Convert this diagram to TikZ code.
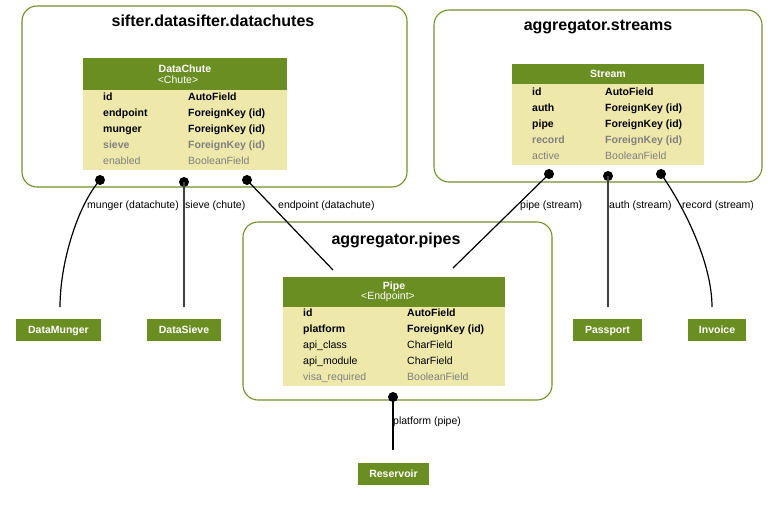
\documentclass[tikz,border=0pt]{standalone}
\usepackage{fontspec}
\setmainfont{Liberation Sans}
\usetikzlibrary{calc}
\definecolor{hdr}{RGB}{107,142,35}
\definecolor{bdy}{RGB}{238,232,170}
\definecolor{clu}{RGB}{110,145,40}
\definecolor{dim}{RGB}{128,128,128}
\begin{document}
\begin{tikzpicture}[x=1pt,y=-1pt,
  cluster/.style={draw=clu,line width=1.1pt,rounded corners=15pt},
  ctitle/.style={font=\fontsize{16}{18}\selectfont\bfseries},
  fbase/.style={anchor=west,inner sep=0pt,text height=7.6pt,text depth=0pt},
  fld/.style={fbase,font=\fontsize{10.5}{12}\selectfont\bfseries},
  fldn/.style={fbase,font=\fontsize{10.5}{12}\selectfont},
  fldd/.style={fbase,text=dim,font=\fontsize{10.5}{12}\selectfont},
  flddb/.style={fbase,text=dim,font=\fontsize{10.5}{12}\selectfont\bfseries},
  htext/.style={text=white,align=center,inner sep=0pt,font=\fontsize{10.5}{11.5}\selectfont},
  model/.style={fill=hdr,text=white,inner sep=0pt,minimum height=22pt,text height=7.6pt,text depth=0pt,font=\fontsize{10.5}{12}\selectfont\bfseries},
  dot/.style={circle,fill=black,inner sep=0pt,minimum size=10pt},
  rel/.style={draw=black,line width=1.2pt},
  elabel/.style={anchor=west,inner sep=0pt,text height=7.6pt,text depth=0pt,font=\fontsize{10.5}{12}\selectfont}
]
\useasboundingbox (0,0) rectangle (768,504);

% clusters
\draw[cluster] (22,6) rectangle (407,187);
\node[ctitle] (t1) at (213,21) {sifter.datasifter.datachutes};
\draw[cluster] (434,10) rectangle (762,182);
\node[ctitle] (t2) at (598,27) {aggregator.streams};
\draw[cluster] (243,222) rectangle (552,400);
\node[ctitle] (t3) at (396,240) {aggregator.pipes};

% DataChute table
\fill[bdy] (83,90) rectangle (287,170);
\fill[hdr] (83,58) rectangle (287,90);
\node[htext] (dch) at (185,74) {\textbf{DataChute}\\[-1pt]\makebox[0pt]{\hspace*{-14pt}<Chute>}};
\node[fld] (dc1a) at (103,97) {id};        \node[fld] (dc1b) at (188,97) {AutoField};
\node[fld] (dc2a) at (103,113) {endpoint}; \node[fld] (dc2b) at (188,113) {ForeignKey (id)};
\node[fld] (dc3a) at (103,129) {munger};   \node[fld] (dc3b) at (188,129) {ForeignKey (id)};
\node[flddb] (dc4a) at (103,145) {sieve};  \node[flddb] (dc4b) at (188,145) {ForeignKey (id)};
\node[fldd] (dc5a) at (103,161) {enabled}; \node[fldd] (dc5b) at (188,161) {BooleanField};

% Stream table
\fill[bdy] (512,84) rectangle (704,165);
\fill[hdr] (512,64) rectangle (704,84);
\node[htext,font=\fontsize{10.5}{12}\selectfont\bfseries] (sth) at (608,74) {Stream};
\node[fld] (st1a) at (532,92) {id};        \node[fld] (st1b) at (605,92) {AutoField};
\node[fld] (st2a) at (532,108) {auth};     \node[fld] (st2b) at (605,108) {ForeignKey (id)};
\node[fld] (st3a) at (532,124) {pipe};     \node[fld] (st3b) at (605,124) {ForeignKey (id)};
\node[flddb] (st4a) at (532,140) {record}; \node[flddb] (st4b) at (605,140) {ForeignKey (id)};
\node[fldd] (st5a) at (532,156) {active};  \node[fldd] (st5b) at (605,156) {BooleanField};

% Pipe table
\fill[bdy] (283,307) rectangle (505,386);
\fill[hdr] (283,277) rectangle (505,307);
\node[htext] (pph) at (394,292) {\textbf{Pipe}\\[-1pt]\makebox[0pt]{\hspace*{-12pt}<Endpoint>}};
\node[fld] (pp1a) at (303,313) {id};              \node[fld] (pp1b) at (407,313) {AutoField};
\node[fld] (pp2a) at (303,329) {platform};        \node[fld] (pp2b) at (407,329) {ForeignKey (id)};
\node[fldn] (pp3a) at (303,345) {api\_class};     \node[fldn] (pp3b) at (407,345) {CharField};
\node[fldn] (pp4a) at (303,361) {api\_module};    \node[fldn] (pp4b) at (407,361) {CharField};
\node[fldd] (pp5a) at (303,377) {visa\_required}; \node[fldd] (pp5b) at (407,377) {BooleanField};

% standalone models
\node[model,minimum width=85pt] (munger) at (58.5,330) {DataMunger};
\node[model,minimum width=74pt] (sieve) at (184,330) {DataSieve};
\node[model,minimum width=69pt] (passport) at (607.5,330) {Passport};
\node[model,minimum width=58pt] (invoice) at (717,330) {Invoice};
\node[model,minimum width=71pt] (reservoir) at (393.5,474) {Reservoir};

% relation end points
\coordinate (mungerEnd) at (60,307);
\coordinate (sieveEnd) at (184,307);
\coordinate (endpointEnd) at (333,270);
\coordinate (pipeEnd) at (453,268);
\coordinate (authEnd) at (608,307);
\coordinate (recordEnd) at (712,307);
\coordinate (platformEnd) at (393,450);

% dots
\node[dot] (dm) at (100,180) {};
\node[dot] (ds) at (184,182) {};
\node[dot] (de) at (247,180) {};
\node[dot] (sp) at (549,174) {};
\node[dot] (sa) at (608,176) {};
\node[dot] (sr) at (661,174) {};
\node[dot] (pp) at (393,397) {};

% relations
\draw[rel] (dm.center) .. controls (78,205) and (60,262) .. (mungerEnd);
\draw[rel,draw=black!75,line width=1.5pt] (ds.center) -- (sieveEnd);
\draw[rel] (de.center) -- (endpointEnd);
\draw[rel] (sp.center) -- (pipeEnd);
\draw[rel,draw=black!75,line width=1.5pt] (sa.center) -- (authEnd);
\draw[rel] (sr.center) .. controls (683,205) and (712,262) .. (recordEnd);
\draw[rel] (pp.center) -- (platformEnd);

% labels
\node[elabel] (lm) at (87,205) {munger (datachute)};
\node[elabel] (ls) at (185,205) {sieve (chute)};
\node[elabel] (le) at (278,205) {endpoint (datachute)};
\node[elabel] (lp) at (520,205) {pipe (stream)};
\node[elabel] (la) at (609,205) {auth (stream)};
\node[elabel] (lr) at (682,205) {record (stream)};
\node[elabel] (lpl) at (393,421) {platform (pipe)};
\end{tikzpicture}
\end{document}
